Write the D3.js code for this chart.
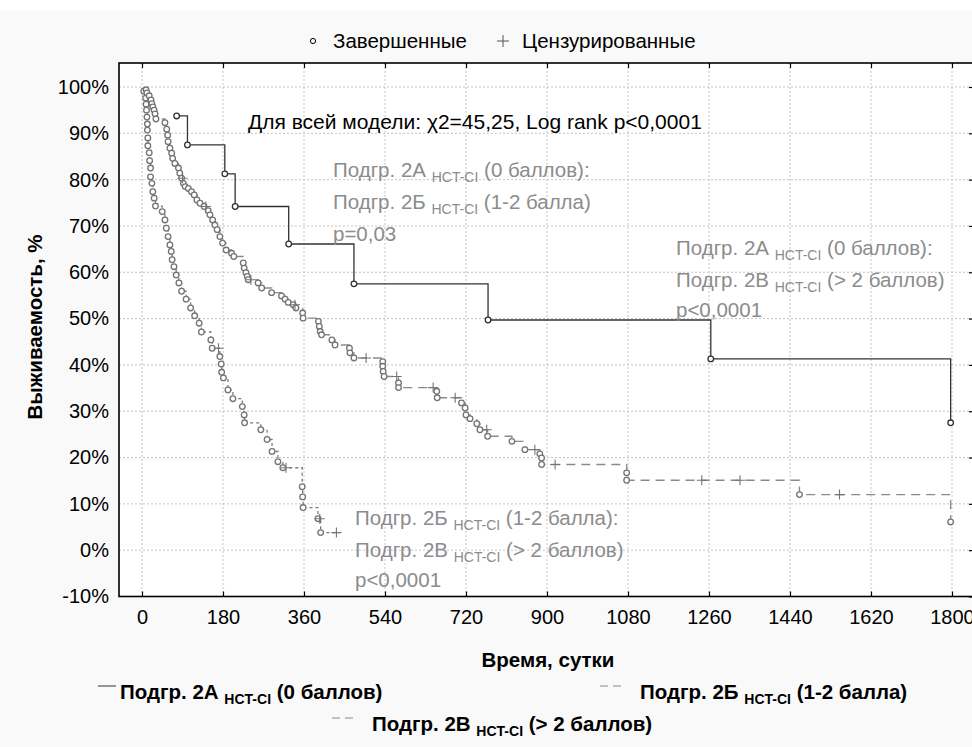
<!DOCTYPE html>
<html><head><meta charset="utf-8">
<script src="https://cdn.jsdelivr.net/npm/d3@7"></script>
<style>body{margin:0;background:#fff}svg{display:block}text{font-family:"Liberation Sans",Arial,sans-serif}</style>
</head><body><svg id="c" width="972" height="747"></svg>
<script>
// ---- data ----
const xTicks = [0,180,360,540,720,900,1080,1260,1440,1620,1800];
const yTicks = [-10,0,10,20,30,40,50,60,70,80,90,100];

// Подгр. 2А (0 баллов)
const A_eventTime = [77,101,184,207,326,471,769,1264,1797];
const A_eventSurv = [93.75,87.5,81.25,74.2,66.1,57.5,49.7,41.3,27.5];
const A_censorTime = [];

// Подгр. 2Б (1-2 балла)
const B_eventTime = [9,11,16,20,22,24,27,29,31,51,55,57,58,62,66,68,73,81,84,88,
  92,96,103,110,116,122,129,138,147,151,157,162,167,173,179,187,199,204,225,227,
  231,234,236,258,266,288,310,318,325,336,342,357,358,392,394,396,399,422,429,461,
  462,471,535,535,536,538,570,570,655,656,710,718,720,729,744,751,768,822,851,884,
  888,888,1077,1077,1461,1797];
const B_eventSurv = [99.4,98.7,98.1,97.2,96.4,95.7,95.0,94.2,93.1,92.3,90.9,89.6,88.2,86.8,85.7,84.6,83.5,82.5,81.4,80.3,
  79.2,78.5,78.1,77.4,76.7,75.6,74.9,74.2,73.3,72.4,71.3,70.2,69.2,67.7,66.3,64.8,64.1,63.4,62.0,60.9,
  59.9,59.1,58.4,57.7,56.6,55.6,54.9,54.2,53.5,53.0,52.3,51.2,50.1,49.4,48.3,47.2,46.5,45.4,44.3,43.6,
  42.6,41.5,40.7,39.7,38.6,37.5,36.1,35.1,34.3,32.9,31.8,30.7,29.2,28.4,27.3,26.0,24.6,23.5,21.7,20.8,
  19.9,18.5,16.7,15.1,12.0,6.1];
const B_censorTime = [90,142,242,340,498,566,647,696,766,873,918,1244,1329,1550];

// Подгр. 2В (> 2 баллов)
const C_eventTime = [4,8,9,10,11,12,12,13,13,16,17,19,19,22,24,27,30,45,51,54,
  58,62,65,67,71,76,82,88,98,108,117,127,132,153,156,173,176,177,181,191,
  202,223,227,228,264,278,289,302,313,356,357,358,391,397];
const C_eventSurv = [99.1,97.6,96.3,95.0,93.5,92.0,90.7,89.0,87.3,85.8,84.1,82.5,80.6,79.2,77.4,76.0,74.3,73.1,71.3,69.5,
  67.7,65.9,64.5,62.7,61.2,59.4,57.7,55.9,54.2,52.3,50.6,49.0,47.1,45.4,43.6,41.8,40.2,38.4,37.2,34.6,
  32.7,31.0,29.2,27.5,26.0,23.9,21.3,19.1,17.8,13.7,11.5,9.2,6.8,3.8];
const C_censorTime = [170,320,395,432];

// ---- layout ----
const svg = d3.select("#c");
const L = 119, R = 974, T = 63, B = 596.5;
const FS = 20.5, SUB = 14;
const x = d3.scaleLinear().domain([0,1800]).range([142,952]);
const y = d3.scaleLinear().domain([-10,100]).range([B,87]);

svg.append("rect").attr("x",0).attr("y",10).attr("width",972).attr("height",737).attr("fill","#f9f9f9");
svg.append("rect").attr("x",L).attr("y",T).attr("width",R-L).attr("height",B-T).attr("fill","#fff");

// grid
const grid = svg.append("g").attr("stroke","#c4c4c4").attr("stroke-width",1).attr("stroke-dasharray","2,2");
xTicks.forEach(t=>grid.append("line").attr("x1",x(t)).attr("x2",x(t)).attr("y1",T).attr("y2",B));
yTicks.forEach(t=>grid.append("line").attr("x1",L).attr("x2",R).attr("y1",y(t)).attr("y2",y(t)));

// axes
const fmtPct = d=>d+"%";
const axB = svg.append("g").attr("transform",`translate(0,${B})`)
  .call(d3.axisBottom(x).tickValues(xTicks).tickSize(-5).tickPadding(13).tickSizeOuter(0).tickFormat(d3.format("d")));
const axT = svg.append("g").attr("transform",`translate(0,${T})`)
  .call(d3.axisTop(x).tickValues(xTicks).tickSize(-5).tickFormat("").tickSizeOuter(0));
const axL = svg.append("g").attr("transform",`translate(${L},0)`)
  .call(d3.axisLeft(y).tickValues(yTicks).tickSize(0).tickPadding(10).tickFormat(fmtPct));
const axR = svg.append("g").attr("transform",`translate(${R},0)`)
  .call(d3.axisRight(y).tickValues(yTicks).tickSize(-5).tickFormat("").tickSizeOuter(0));
[axB,axT,axL,axR].forEach(a=>{
  a.select(".domain").remove();
  a.selectAll("line").attr("stroke","#000").attr("stroke-width",1.2);
  a.selectAll("text").attr("font-size",20).attr("fill","#000").attr("font-family","'Liberation Sans',Arial,sans-serif");
});
svg.append("rect").attr("x",L).attr("y",T).attr("width",R-L).attr("height",B-T)
  .attr("fill","none").attr("stroke","#000").attr("stroke-width",1.6);

// curves
function buildPoints(et, es, ct){
  const pts = et.map((t,i)=>({t, s:es[i], c:false}));
  ct.forEach(t=>{
    let s = null;
    et.forEach((tt,i)=>{ if(tt<=t) s = es[i]; });
    pts.push({t, s, c:true});
  });
  pts.sort((a,b)=>a.t-b.t || (a.c - b.c));
  return pts;
}
const step = d3.line().x(d=>x(d.t)).y(d=>y(d.s)).curve(d3.curveStepAfter);

function drawCurve(pts, color, mcolor, dash, width){
  const g = svg.append("g");
  g.append("path").attr("d", step(pts)).attr("fill","none").attr("stroke",color)
    .attr("stroke-width",width).attr("stroke-dasharray",dash);
  pts.filter(d=>!d.c).forEach(d=>{
    g.append("circle").attr("cx",x(d.t)).attr("cy",y(d.s)).attr("r",2.8)
      .attr("fill","#fff").attr("stroke",mcolor).attr("stroke-width",1.3);
  });
  pts.filter(d=>d.c).forEach(d=>{
    const cx=x(d.t), cy=y(d.s);
    g.append("path").attr("d",`M${cx-5},${cy}H${cx+5}M${cx},${cy-5}V${cy+5}`)
      .attr("stroke",mcolor).attr("stroke-width",1.1);
  });
}
drawCurve(buildPoints(C_eventTime,C_eventSurv,C_censorTime),"#7a7a7a","#747474","3,3",1.3);
drawCurve(buildPoints(B_eventTime,B_eventSurv,B_censorTime),"#8a8a8a","#747474","9,6",1.4);
drawCurve(buildPoints(A_eventTime,A_eventSurv,A_censorTime),"#333","#333",null,1.3);

// text helper
function rich(x0, y0, parts, opts){
  const t = svg.append("text").attr("x",x0).attr("y",y0)
    .attr("font-size",opts.size).attr("fill",opts.fill).attr("font-weight",opts.weight||"normal");
  if(opts.anchor) t.attr("text-anchor",opts.anchor);
  let shift = 0;
  parts.forEach(p=>{
    const s = t.append("tspan").text(p.t);
    if(p.sub){ s.attr("font-size",opts.subSize).attr("dy",5-shift); shift=5; }
    else { if(shift){ s.attr("dy",-shift); shift=0; } }
  });
  return t;
}

// top legend
svg.append("circle").attr("cx",313).attr("cy",41).attr("r",2.6).attr("fill","none").attr("stroke","#000").attr("stroke-width",1);
svg.append("text").attr("x",333).attr("y",48).attr("font-size",FS).text("Завершенные");
svg.append("path").attr("d","M497,41H509M503,35V47").attr("stroke","#555").attr("stroke-width",1);
svg.append("text").attr("x",522).attr("y",48).attr("font-size",FS).text("Цензурированные");

// annotations
svg.append("text").attr("x",248).attr("y",129).attr("font-size",21).attr("fill","#000")
  .text("Для всей модели: χ2=45,25, Log rank p<0,0001");
const grey = {size:FS, subSize:SUB, fill:"#8c8c8c"};
rich(333,177,[{t:"Подгр. 2А "},{t:"HCT-CI",sub:true},{t:" (0 баллов):"}],grey);
rich(333,209,[{t:"Подгр. 2Б "},{t:"HCT-CI",sub:true},{t:" (1-2 балла)"}],grey);
rich(333,241,[{t:"p=0,03"}],grey);
rich(676,255,[{t:"Подгр. 2А "},{t:"HCT-CI",sub:true},{t:" (0 баллов):"}],grey);
rich(676,287,[{t:"Подгр. 2В "},{t:"HCT-CI",sub:true},{t:" (> 2 баллов)"}],grey);
rich(676,317,[{t:"p<0,0001"}],grey);
rich(355,525,[{t:"Подгр. 2Б "},{t:"HCT-CI",sub:true},{t:" (1-2 балла):"}],grey);
rich(355,557,[{t:"Подгр. 2В "},{t:"HCT-CI",sub:true},{t:" (> 2 баллов)"}],grey);
rich(355,587,[{t:"p<0,0001"}],grey);

// axis titles
svg.append("text").attr("x",548).attr("y",667).attr("text-anchor","middle").attr("font-size",FS).attr("font-weight","bold").text("Время, сутки");
svg.append("text").attr("transform","translate(42,327) rotate(-90)").attr("text-anchor","middle").attr("font-size",FS).attr("font-weight","bold").text("Выживаемость, %");

// bottom legend
const bold = {size:FS, subSize:SUB, fill:"#000", weight:"bold"};
svg.append("line").attr("x1",98).attr("x2",116).attr("y1",686).attr("y2",686).attr("stroke","#333").attr("stroke-width",1);
rich(120,699,[{t:"Подгр. 2А "},{t:"HCT-CI",sub:true},{t:" (0 баллов)"}],bold);
svg.append("line").attr("x1",600).attr("x2",622).attr("y1",686).attr("y2",686).attr("stroke","#888").attr("stroke-width",1).attr("stroke-dasharray","8,5");
rich(640,699,[{t:"Подгр. 2Б "},{t:"HCT-CI",sub:true},{t:" (1-2 балла)"}],bold);
svg.append("line").attr("x1",332).attr("x2",356).attr("y1",718).attr("y2",718).attr("stroke","#888").attr("stroke-width",1).attr("stroke-dasharray","8,5");
rich(372,731,[{t:"Подгр. 2В "},{t:"HCT-CI",sub:true},{t:" (> 2 баллов)"}],bold);
</script></body></html>
